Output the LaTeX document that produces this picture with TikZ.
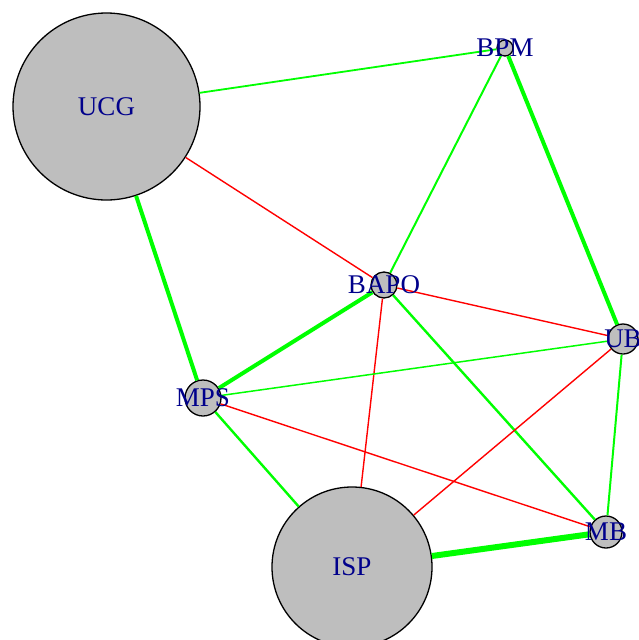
\documentclass[tikz,border=0pt]{standalone}
\usepackage{fontspec}
\setmainfont{Liberation Serif}
\definecolor{vgreen}{HTML}{00FF00}
\definecolor{vred}{HTML}{FF0000}
\definecolor{vgray}{HTML}{BEBEBE}
\definecolor{vblue}{HTML}{00008B}
\tikzset{
  vert/.style={circle,draw=black,line width=1.3pt,fill=vgray,inner sep=0pt,minimum size=#1},
  vlab/.style={text=vblue,font=\fontsize{27}{27}\selectfont,inner sep=0pt},
  pos/.style={draw=vgreen,line width=#1},
  neg/.style={draw=vred,line width=1.4pt},
}
\begin{document}
\begin{tikzpicture}[x=1pt,y=-1pt]
\useasboundingbox (0,0) rectangle (638,640);
% vertices
\node[vert=187pt] (ucg) at (106.5,106.5) {};
\node[vert=16pt] (bpm) at (505,48) {};
\node[vert=26pt] (bapo) at (384,285) {};
\node[vert=30pt] (ub) at (623,339) {};
\node[vert=36pt] (mps) at (203,398) {};
\node[vert=160pt] (isp) at (352,567) {};
\node[vert=32pt] (mb) at (606,532) {};
% edges (border to border)
\draw[pos=1.8pt] (ucg) -- (bpm);
\draw[neg] (ucg) -- (bapo);
\draw[pos=4pt] (ucg) -- (mps);
\draw[pos=2pt] (bpm) -- (bapo);
\draw[pos=4pt] (bpm) -- (ub);
\draw[neg] (bapo) -- (ub);
\draw[pos=4pt] (bapo) -- (mps);
\draw[neg] (bapo) -- (isp);
\draw[pos=2.4pt] (bapo) -- (mb);
\draw[pos=1.5pt] (ub) -- (mps);
\draw[neg] (ub) -- (isp);
\draw[pos=2pt] (ub) -- (mb);
\draw[pos=2.4pt] (mps) -- (isp);
\draw[neg] (mps) -- (mb);
\draw[pos=6pt] (isp) -- (mb);
% labels
\node[vlab] (lucg) at (ucg.center) {UCG};
\node[vlab] (lbpm) at (bpm.center) {BPM};
\node[vlab] (lbapo) at (bapo.center) {BAPO};
\node[vlab] (lub) at (ub.center) {UB};
\node[vlab] (lmps) at (mps.center) {MPS};
\node[vlab] (lisp) at (isp.center) {ISP};
\node[vlab] (lmb) at (mb.center) {MB};
\end{tikzpicture}
\end{document}
